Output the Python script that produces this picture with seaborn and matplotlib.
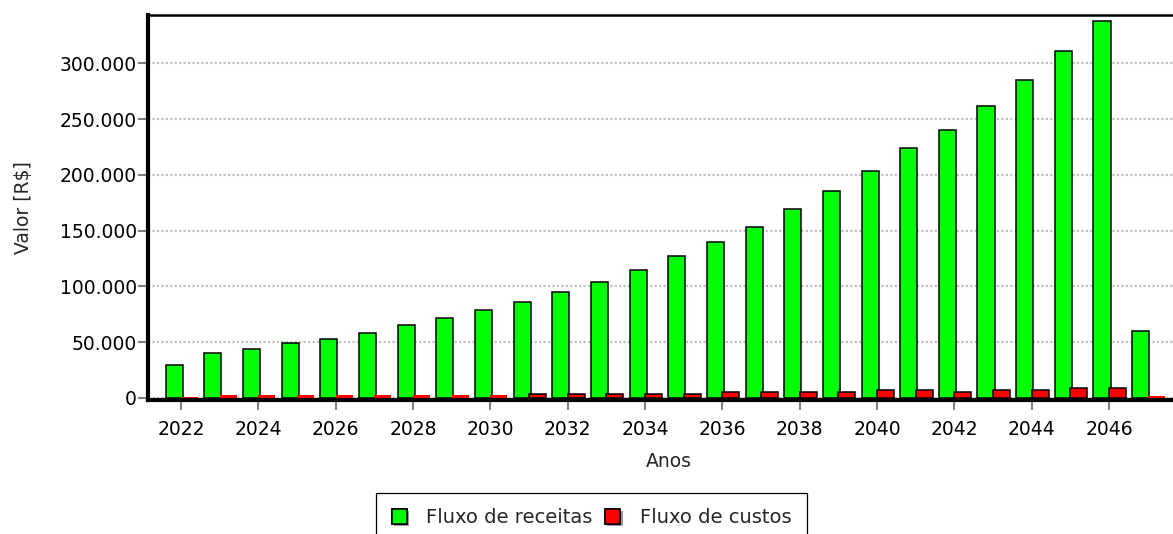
import pandas as pd
import matplotlib
matplotlib.use('Agg')
import matplotlib.pyplot as plt
import matplotlib.patheffects as pe
from matplotlib.patches import Patch
import seaborn as sns

anos = list(range(2022, 2048))
receitas = [29500, 40000, 43700, 48800, 52700, 58000, 65500, 71300, 78400, 85600,
            94600, 104100, 114600, 127500, 140000, 152800, 169100, 185500, 203800,
            223900, 240300, 261800, 285500, 311200, 338400, 59900]
custos = [900, 2400, 2400, 2400, 2400, 2400, 2400, 2400, 2400, 3200,
          3200, 3200, 3200, 3200, 4800, 4800, 4800, 4800, 6700,
          6700, 4800, 6700, 6700, 8500, 8500, 1800]
series = ['Fluxo de receitas', 'Fluxo de custos']
cores = ['#00ff00', '#ff0000']
yticks = [0, 50000, 100000, 150000, 200000, 250000, 300000]

df = pd.DataFrame({
    'Ano': [str(a) for a in anos] * 2,
    'Valor': receitas + custos,
    'Fluxo': [series[0]] * len(anos) + [series[1]] * len(anos),
})

sns.set_theme(style='white')
plt.rcParams['font.family'] = ['DejaVu Sans']
fs = 13.5

fig = plt.figure(figsize=(11.73, 5.34), dpi=100)
ax = fig.add_axes([148 / 1173, 134.5 / 534, (1189 - 148) / 1173, 384.5 / 534])

sns.barplot(data=df, x='Ano', y='Valor', hue='Fluxo', palette=cores, saturation=1,
            width=0.88, gap=0, edgecolor='black', linewidth=1.1, legend=False, ax=ax)

# green bars sit a bit closer to the red ones; tiny bars have no outline
for p in ax.patches:
    if p.get_facecolor()[1] > 0.5:
        p.set_x(p.get_x() + 0.04)
    if p.get_height() < 3000:
        p.set_edgecolor('none')

ax.set_xlim(-0.853, 26.07)
ax.set_ylim(-1600, 343500)
ax.set_yticks(yticks)
ax.set_yticklabels([f'{v:,.0f}'.replace(',', '.') for v in yticks], fontsize=fs)
ax.set_xticks(range(0, len(anos), 2))
ax.set_xticklabels([str(a) for a in anos[::2]], fontsize=fs)

ax.tick_params(axis='both', which='major', length=7, width=1.5, color='#808080',
               direction='out', labelcolor='black')
ax.tick_params(axis='y', pad=1)
ax.tick_params(axis='x', pad=8)
ax.tick_params(left=True, bottom=True)

ax.yaxis.grid(True, linestyle=(0, (1, 1)), color='#c0c0c0', linewidth=1.6)
ax.xaxis.grid(False)
ax.set_axisbelow(True)

for s in ['left', 'bottom']:
    ax.spines[s].set_linewidth(3)
    ax.spines[s].set_color('black')
ax.spines['top'].set_linewidth(1.8)
ax.spines['top'].set_color('black')
ax.spines['right'].set_visible(False)

ax.set_xlabel('Anos', fontsize=fs, labelpad=9)
ax.set_ylabel('Valor [R$]', fontsize=fs, labelpad=19)

handles = [Patch(facecolor=c, edgecolor='black', linewidth=1.1) for c in cores]
leg = ax.legend(handles, series, loc='upper left',
                bbox_to_anchor=(376.5 / 1173, (534 - 493) / 534),
                bbox_transform=fig.transFigure, ncol=2, fontsize=14,
                frameon=True, fancybox=False, framealpha=1, edgecolor='black',
                borderaxespad=0, borderpad=0.78, handlelength=0.78, handleheight=0.8,
                handletextpad=1.0, columnspacing=0.65)
leg.get_frame().set_linewidth(0.9)
for h in leg.legend_handles:
    h.set_path_effects([pe.withSimplePatchShadow(offset=(1.5, -1.5),
                                                 shadow_rgbFace='#9a9a9a', alpha=1),
                        pe.Normal()])

fig.savefig('out.png', dpi=100)
